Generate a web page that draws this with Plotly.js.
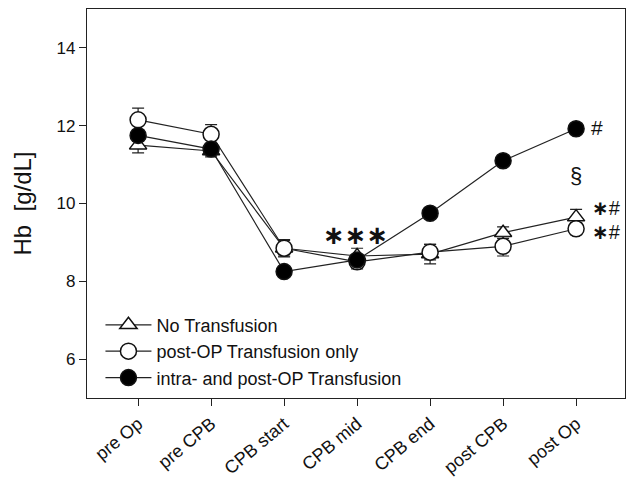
<!DOCTYPE html>
<html><head><meta charset="utf-8">
<script src="https://cdn.plot.ly/plotly-3.0.1.min.js"></script>
<style>body{margin:0;background:#fff}#c{width:632px;height:478px}</style>
</head><body><div id="c"></div>
<script>
var categories = ["pre Op","pre CPB","CPB start","CPB mid","CPB end","post CPB","post Op"];
var noTransfusion = [11.5, 11.35, 8.85, 8.65, 8.7, 9.25, 9.65];
var noTransfusionErr = [0.2, 0.15, 0.22, 0.2, 0.25, 0.15, 0.2];
var postOnly = [12.15, 11.78, 8.85, 8.5, 8.75, 8.9, 9.35];
var postOnlyErr = [0.3, 0.25, 0.2, 0.18, 0.2, 0.25, 0.15];
var intraPost = [11.75, 11.4, 8.25, 8.55, 9.75, 11.1, 11.92];
var intraPostErr = [0.15, 0.12, 0.08, 0.1, 0.08, 0.1, 0.12];
var names = ["No Transfusion","post-OP Transfusion only","intra- and post-OP Transfusion"];

var xi = categories.map(function(c,i){return i;});
function tr(y, e, name, sym, fill, size){
  return {x: xi, y: y, name: name, type:'scatter', mode:'lines+markers',
    line:{color:'#222', width:1.2},
    marker:{symbol:sym, size:size, color:fill, line:{color:'#111', width:1.5}},
    error_y:{type:'data', array:e, visible:true, color:'#222', thickness:1.2, width:6}};
}
var data = [
  tr(noTransfusion, noTransfusionErr, names[0], 'triangle-up', '#fff', 15),
  tr(postOnly, postOnlyErr, names[1], 'circle', '#fff', 16),
  tr(intraPost, intraPostErr, names[2], 'circle', '#000', 16)
];
var F = 'Arial, Liberation Sans';
var star = '<span style="font-family:\'DejaVu Sans\';font-weight:bold">\u2217</span>';
var ann = [
  {x:2.98, y:9.2, text:star+star+star, size:26},
  {x:6.28, y:11.95, text:'#', size:21},
  {x:6.0, y:10.73, text:'§', size:22},
  {x:6.42, y:9.88, text:star+'#', size:20},
  {x:6.42, y:9.28, text:star+'#', size:20}
].map(function(a){return {x:a.x, y:a.y, xref:'x', yref:'y', text:a.text, showarrow:false,
  font:{family:F, size:a.size, color:'#111'}};});

var layout = {
  width:632, height:478,
  margin:{l:87, r:7, t:9, b:80},
  paper_bgcolor:'#fff', plot_bgcolor:'#fff',
  font:{family:F, color:'#111'},
  showlegend:true,
  legend:{x:0.025, y:0.235, xanchor:'left', yanchor:'top', bgcolor:'rgba(0,0,0,0)',
    font:{size:18, color:'#111'}, tracegroupgap:0, itemwidth:46, traceorder:'normal'},
  xaxis:{range:[-0.70, 6.67], tickmode:'array', tickvals:xi, ticktext:categories,
    tickangle:-40, ticks:'outside', ticklen:7, tickcolor:'#222', showgrid:false, zeroline:false,
    showline:true, linecolor:'#222', linewidth:1.2, mirror:true, tickfont:{size:18}},
  yaxis:{range:[5,15], tickvals:[6,8,10,12,14], ticks:'outside', ticklen:7, tickcolor:'#222',
    showgrid:false, zeroline:false, showline:true, linecolor:'#222', linewidth:1.2, mirror:true,
    tickfont:{size:17}, title:{text:'Hb  [g/dL]', font:{size:24}, standoff:18}},
  annotations: ann
};
Plotly.newPlot('c', data, layout, {displayModeBar:false, staticPlot:true});
</script></body></html>
